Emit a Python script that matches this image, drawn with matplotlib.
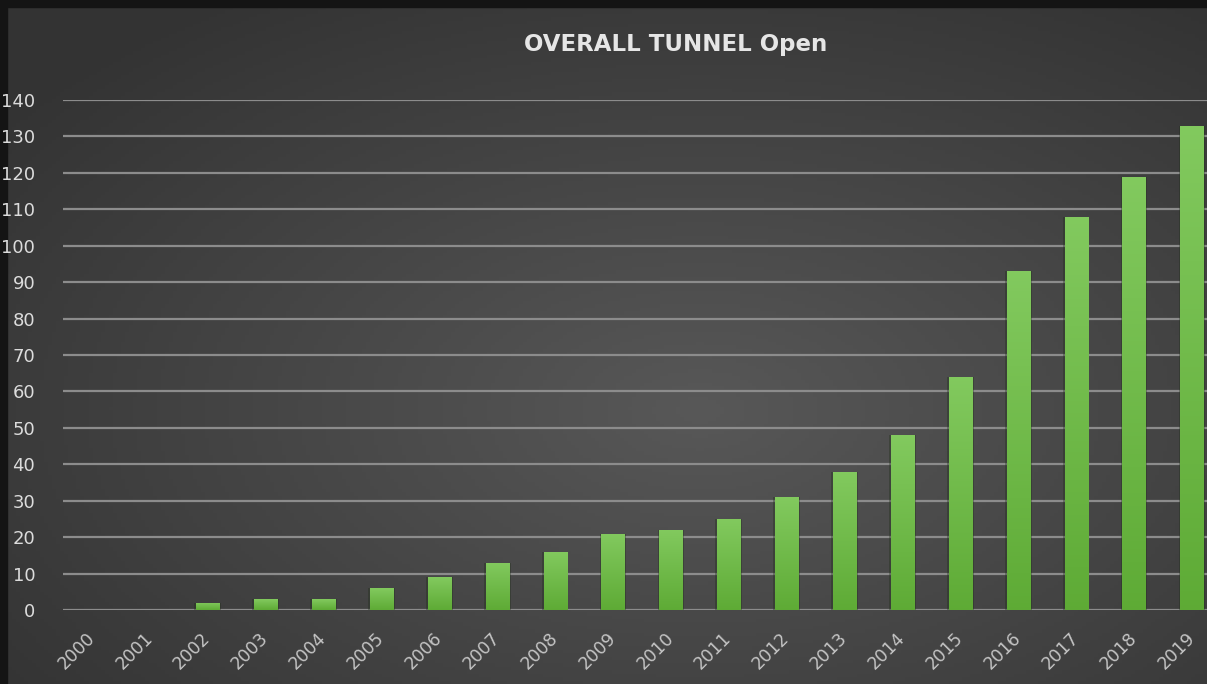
import matplotlib.pyplot as plt
import numpy as np
from matplotlib.patches import Rectangle

years = [str(y) for y in range(2000, 2020)]
tunnels_open = [0, 0, 2, 3, 3, 6, 9, 13, 16, 21, 22, 25, 31, 38, 48, 64, 93, 108, 119, 133]
y_ticks = list(range(0, 141, 10))

plt.rcParams['font.family'] = ['DejaVu Sans']

W, H = 1207, 684
fig = plt.figure(figsize=(W / 100, H / 100), dpi=100)

# background: radial-ish gray gradient
bg = fig.add_axes([0, 0, 1, 1], zorder=0)
gx, gy = np.meshgrid(np.linspace(0, 1, 300), np.linspace(0, 1, 200))
d = np.sqrt(((gx - 0.58) / 0.7) ** 2 + ((gy - 0.6) / 0.7) ** 2)
shade = np.clip(0.345 - 0.14 * d, 0.2, 0.345)
bg.imshow(np.dstack([shade, shade, shade]), extent=[0, 1, 0, 1], aspect='auto', origin='upper')
bg.set_xlim(0, 1)
bg.set_ylim(0, 1)
bg.axis('off')
# dark border strips at left and top
bg.add_patch(Rectangle((0, 0), 7 / W, 1, color='#141414', zorder=3))
bg.add_patch(Rectangle((0, 1 - 7 / H), 1, 7 / H, color='#141414', zorder=3))

ax = fig.add_axes([63 / W, 1 - 610 / H, (W - 63) / W, 510 / H], zorder=1)
ax.patch.set_alpha(0)
x = np.arange(len(years))

# soft dark shadow behind bars
ax.bar(x, tunnels_open, width=0.46, color='#1f2e18', alpha=0.35, zorder=2)
bars = ax.bar(x, tunnels_open, width=0.4, color='#67b943', zorder=3)

grad = np.linspace(0, 1, 100).reshape(-1, 1)
top_c = np.array([0.51, 0.79, 0.37])
bot_c = np.array([0.37, 0.67, 0.21])
grad_img = top_c * (1 - grad[..., None]) + bot_c * grad[..., None]
grad_img = grad_img.reshape(100, 1, 3)
for b in bars:
    if b.get_height() <= 0:
        continue
    im = ax.imshow(grad_img, extent=[b.get_x(), b.get_x() + b.get_width(), 0, b.get_height()],
                   aspect='auto', origin='upper', zorder=4)
    im.set_clip_path(b)

ax.set_xlim(-0.5, 19.26)
ax.set_ylim(0, 140)
ax.set_yticks(y_ticks)
ax.set_yticklabels([str(t) for t in y_ticks], color='#dcdcdc', fontsize=13)
ax.set_xticks(x)
ax.set_xticklabels(years, rotation=45, ha='right', va='center', rotation_mode='anchor',
                   color='#c4c4c4', fontsize=12.5)
ax.tick_params(axis='y', length=0, pad=20)
ax.tick_params(axis='x', length=0, pad=18)
ax.grid(axis='y', color='#8c8c8c', linewidth=1.6, zorder=1)
ax.set_axisbelow(True)
for s in ax.spines.values():
    s.set_visible(False)

fig.text(676 / W, 1 - 45 / H, 'OVERALL TUNNEL Open', ha='center', va='center',
         color='#e6e6e6', fontsize=16.5, fontweight='bold')

fig.savefig('out.png', dpi=100)
